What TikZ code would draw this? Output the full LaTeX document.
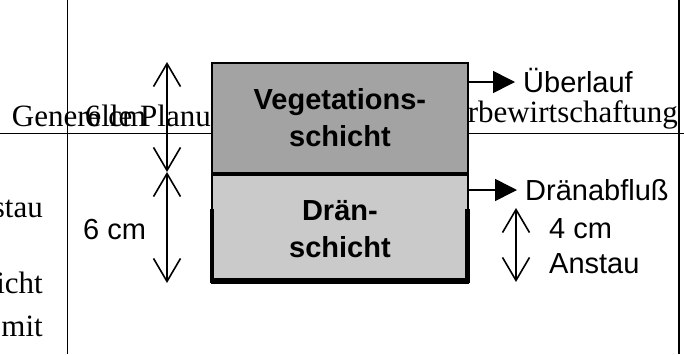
\documentclass[tikz,border=0pt]{standalone}
\usepackage{fontspec}
\setmainfont{Liberation Serif}
\newfontfamily\arialf{Liberation Sans}
\usetikzlibrary{arrows.meta}
\definecolor{vegfill}{RGB}{163,163,163}
\definecolor{drainfill}{RGB}{202,202,202}
\begin{document}
\begin{tikzpicture}[x=1pt,y=-1pt,
  thinline/.style={line width=1.8pt},
  serif/.style={font=\fontsize{31}{36}\selectfont, inner sep=0pt},
  sans/.style={font=\arialf\fontsize{29}{37}\selectfont, inner sep=0pt},
  layer/.style={draw=black, line width=1.8pt, minimum width=256pt, inner sep=0pt, align=center,
    font=\arialf\bfseries\fontsize{29}{37}\selectfont},
  dimarrow/.style={line width=1.6pt, {Straight Barb[length=23pt,width=27pt]}-{Straight Barb[length=23pt,width=27pt]}},
  flowarrow/.style={line width=1.6pt, -{Triangle[length=22pt,width=22pt]}},
  thickedge/.style={line width=4.5pt, line join=miter}
]
\useasboundingbox (0,0) rectangle (684,354);
% frame lines
\coordinate (v1t) at (67.5,0);  \coordinate (v1b) at (67.5,354);
\coordinate (v2t) at (679,0);   \coordinate (v2b) at (679,354);
\coordinate (hl) at (0,133.5);  \coordinate (hr) at (684,133.5);
\draw[thinline] (v1t) -- (v1b);
\draw[thinline] (v2t) -- (v2b);
\draw[thinline] (hl) -- (hr);
% background texts
\node[serif, anchor=base east] (gen) at (211,126) {Generelle Planu};
\node[serif, anchor=base east] (bew) at (678,122) {rbewirtschaftung};
\node[serif, anchor=base west] (sixa) at (85,126) {6 cm};
\node[serif, anchor=base east] (stau) at (43,217) {stau};
\node[serif, anchor=base east] (icht) at (43,293) {icht};
\node[serif, anchor=base east] (mit) at (43,336) {mit};
% layers
\node[layer, fill=vegfill, minimum height=110pt, anchor=north west] (veg) at (211,62) {Vegetations-\\schicht};
\node[layer, fill=drainfill, minimum height=108pt, anchor=north] (drain) at (veg.south) {Drän-\\schicht};
\coordinate (uL) at (212,209);
\coordinate (uBL) at (212,280.5);
\coordinate (uBR) at (467.5,280.5);
\coordinate (uR) at (467.5,209);
\draw[thickedge] (uL) -- (uBL) -- (uBR) -- (uR);
% dimension arrows
\coordinate (a1) at (167,62);
\coordinate (a2) at (167,172);
\coordinate (a3) at (167,283);
\draw[dimarrow] (a1) -- (a2);
\draw[dimarrow] (a2) -- (a3);
\coordinate (b1) at (516,208);
\coordinate (b2) at (516,282);
\draw[dimarrow] (b1) -- (b2);
% flow arrows
\coordinate (o1) at (467,82);
\coordinate (o2) at (515,82);
\draw[flowarrow] (o1) -- (o2);
\coordinate (d1) at (467,190);
\coordinate (d2) at (517,190);
\draw[flowarrow] (d1) -- (d2);
% labels
\node[sans, anchor=base west] (ueber) at (523,92) {Überlauf};
\node[sans, anchor=base west] (dran) at (525,200) {Dränabfluß};
\node[sans, anchor=base west] (fourcm) at (549,238) {4 cm};
\node[sans, anchor=base west] (anstau) at (549,273) {Anstau};
\node[sans, anchor=base west] (sixb) at (83,239) {6 cm};
\end{tikzpicture}
\end{document}
